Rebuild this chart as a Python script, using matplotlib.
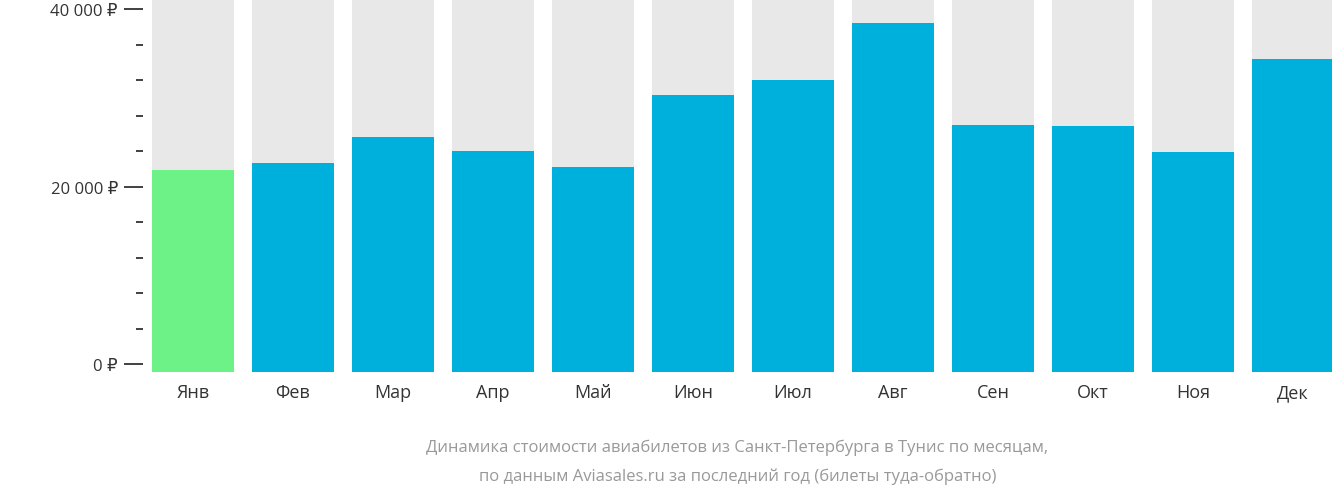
import matplotlib
matplotlib.use("Agg")
import matplotlib.pyplot as plt
from matplotlib.ticker import MultipleLocator, FixedLocator

plt.rcParams['font.family'] = ['Open Sans', 'DejaVu Sans']

# ── Data ──────────────────────────────────────────────────────────────────
months = ["Янв", "Фев", "Мар", "Апр", "Май", "Июн",
          "Июл", "Авг", "Сен", "Окт", "Ноя", "Дек"]
prices = [21900, 22650, 25580, 24000, 22200, 30310,
          32000, 38420, 26930, 26820, 23890, 34370]
y_ticks = [0, 20000, 40000]
y_tick_labels = ["0 ₽", "20 000 ₽", "40 000 ₽"]
caption = ("Динамика стоимости авиабилетов из Санкт-Петербурга в Тунис по месяцам,\n"
           "по данным Aviasales.ru за последний год (билеты туда-обратно)")

Y_MIN, Y_MAX = -900, 41130
cheapest = prices.index(min(prices))
colors = ["#6cf287" if i == cheapest else "#00b0dc" for i in range(len(prices))]

# ── Figure ────────────────────────────────────────────────────────────────
W, H = 1332, 502
fig = plt.figure(figsize=(W / 100, H / 100), dpi=100)
ax = fig.add_axes([143 / W, 129 / H, (W - 143) / W, 1 - 129 / H])

x = range(len(months))
ax.bar(x, [Y_MAX - Y_MIN] * len(months), bottom=Y_MIN, width=0.82, color="#e8e8e8")
ax.bar(x, [p - Y_MIN for p in prices], bottom=Y_MIN, width=0.82, color=colors)

ax.set_xlim(-0.5, 11.39)
ax.set_ylim(Y_MIN, Y_MAX)

for s in ax.spines.values():
    s.set_visible(False)

ax.set_xticks(list(x))
ax.set_xticklabels(months, fontsize=13, color="#333333")
ax.tick_params(axis="x", length=0, pad=8)

ax.yaxis.set_major_locator(FixedLocator(y_ticks))
ax.set_yticklabels(y_tick_labels, fontsize=12, color="#333333")
ax.yaxis.set_minor_locator(MultipleLocator(4000))
ax.tick_params(axis="y", which="major", length=14, width=1.3, color="#333333", pad=4)
ax.tick_params(axis="y", which="minor", length=5, width=1.3, color="#333333")

fig.text(0.5 * (143 + W) / W, 1 - 462 / H, caption, ha="center", va="center",
         fontsize=12, color="#999999", linespacing=2.0)

fig.savefig("out.png", dpi=100)
